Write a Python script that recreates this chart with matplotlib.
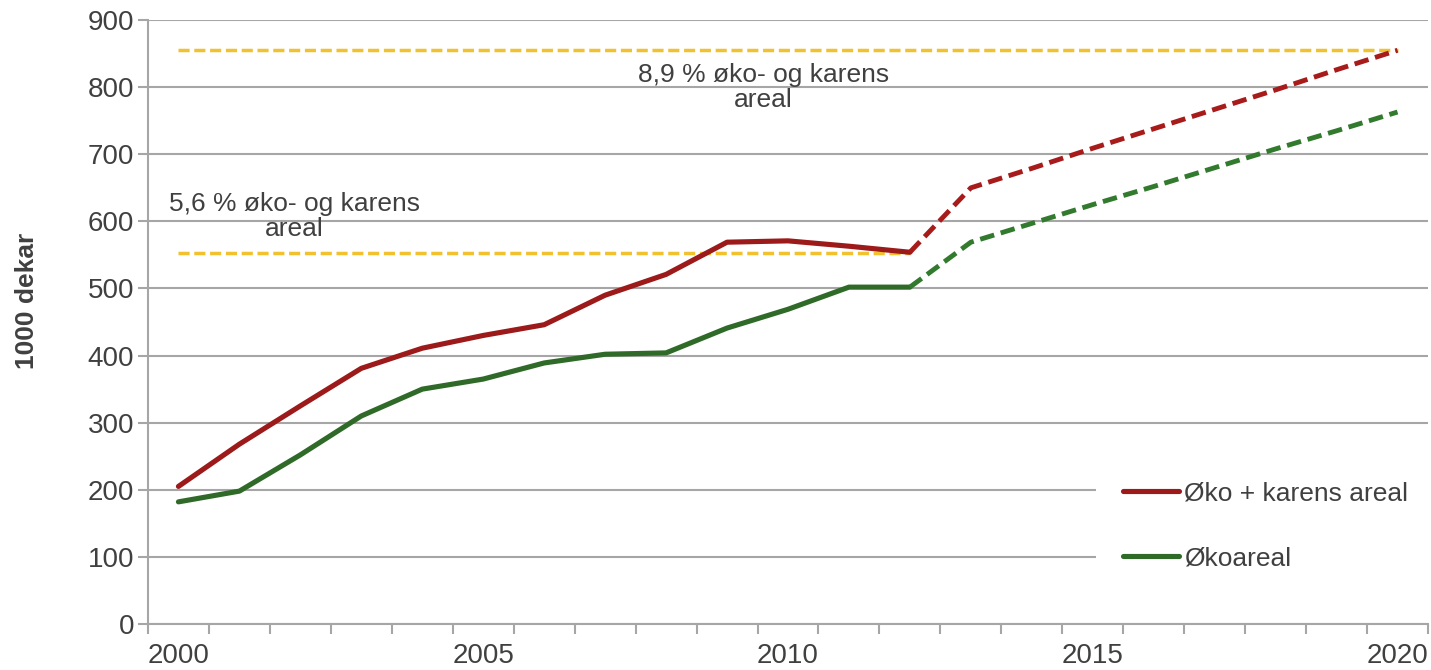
import numpy as np
import matplotlib.pyplot as plt

plt.rcParams['font.family'] = ['Liberation Sans', 'DejaVu Sans']

years = list(range(2000, 2021))
last_actual = 2012
oko_karens = [205, 268, 325, 381, 411, 430, 446, 490, 521, 569, 571, 563, 554,
              650, 679, 709, 738, 767, 796, 826, 855]
okoareal = [182, 198, 252, 310, 350, 365, 389, 402, 404, 441, 469, 502, 502,
            569, 597, 625, 652, 680, 708, 735, 763]
target_2012 = 553   # 5,6 % øko- og karens areal
target_2020 = 855   # 8,9 % øko- og karens areal
label_red = 'Øko + karens areal'
label_green = 'Økoareal'
ytick_vals = list(range(0, 1000, 100))
xtick_labels = [2000, 2005, 2010, 2015, 2020]

red = '#9c1a1a'
green = '#2f6a28'
yellow = '#f2c12e'
grid_c = '#a6a6a6'
txt_c = '#404040'

fig = plt.figure(figsize=(14.31, 6.70), dpi=100)
ax = fig.add_axes([0.1034, 0.0687, 0.8945, 0.9013])

n = years.index(last_actual) + 1
yrs = np.array(years)

# target lines
ax.plot([2000, 2012], [target_2012, target_2012], color=yellow, lw=2.5,
        dashes=(3.2, 1.35), zorder=3)
ax.plot([2000, 2020], [target_2020, target_2020], color=yellow, lw=2.5,
        dashes=(3.2, 1.35), zorder=3)

# actual
ax.plot(yrs[:n], oko_karens[:n], color=red, lw=3.7, label=label_red, zorder=4,
        solid_capstyle='round')
ax.plot(yrs[:n], okoareal[:n], color=green, lw=3.7, label=label_green, zorder=4,
        solid_capstyle='round')
# projected
ax.plot(yrs[n - 1:], oko_karens[n - 1:], color='#a81b1b', lw=3.5, dashes=(3.0, 1.4),
        zorder=4)
ax.plot(yrs[n - 1:], okoareal[n - 1:], color='#327a2d', lw=3.5, dashes=(3.0, 1.4),
        zorder=4)

ax.text(2009.6, 800, '8,9 % øko- og karens\nareal', ha='center', va='center',
        fontsize=19, color=txt_c, linespacing=1.05)
ax.text(2001.9, 607, '5,6 % øko- og karens\nareal', ha='center', va='center',
        fontsize=19, color=txt_c, linespacing=1.05)

ax.set_xlim(1999.5, 2020.5)
ax.set_ylim(0, 900)
ax.set_yticks(ytick_vals)
ax.set_xticks(xtick_labels)
ax.set_xticks(np.arange(1999.5, 2021, 1), minor=True)
ax.tick_params(axis='x', which='major', length=0, pad=14, labelsize=20, colors=txt_c)
ax.tick_params(axis='x', which='minor', length=7, color=grid_c, width=1.5)
ax.tick_params(axis='y', length=7, color=grid_c, width=1.5, labelsize=20,
               colors=txt_c, pad=3)
ax.yaxis.grid(True, color=grid_c, lw=1.5)
ax.set_axisbelow(True)
for s in ['top', 'right']:
    ax.spines[s].set_visible(False)
for s in ['left', 'bottom']:
    ax.spines[s].set_color(grid_c)
    ax.spines[s].set_linewidth(1.5)
ax.set_ylabel('1000 dekar', fontsize=19, fontweight='bold', color=txt_c)
ax.yaxis.set_label_coords(-0.085, 0.535)

leg = ax.legend(loc='lower right', bbox_to_anchor=(1.006, 0.043), borderaxespad=0,
                frameon=True, fontsize=19, handlelength=2.1, handletextpad=0.2,
                labelspacing=1.55, borderpad=1.05, framealpha=1)
leg.get_frame().set_edgecolor('white')
leg.get_frame().set_linewidth(0)
leg.get_frame().set_boxstyle('square', pad=0)
for t in leg.get_texts():
    t.set_color(txt_c)

fig.savefig('out.png', dpi=100)
